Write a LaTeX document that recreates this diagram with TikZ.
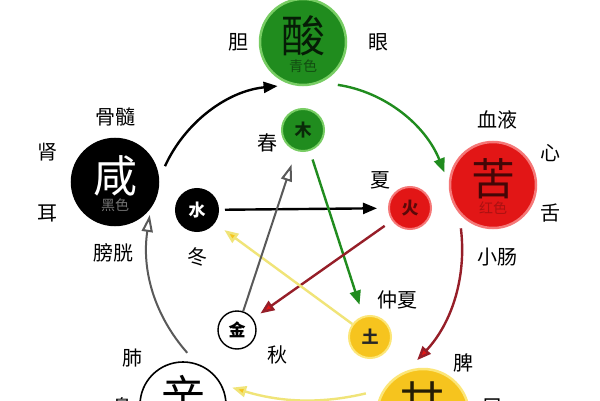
\documentclass[tikz,border=0pt]{standalone}
\usepackage{fontspec}
\setmainfont{Noto Sans CJK SC}
\usetikzlibrary{arrows.meta}
\definecolor{wxgreen}{RGB}{32,140,30}
\definecolor{wxgreenglow}{RGB}{120,205,100}
\definecolor{wxred}{RGB}{226,22,22}
\definecolor{wxredglow}{RGB}{245,120,120}
\definecolor{wxyellow}{RGB}{246,196,30}
\definecolor{wxyellowglow}{RGB}{252,230,120}
\definecolor{arrowred}{RGB}{150,30,40}
\definecolor{arrowyellow}{RGB}{240,228,120}

\begin{document}
\begin{tikzpicture}[x=1pt,y=1pt,
    semithick,
    big/.style={circle, minimum size=86pt, inner sep=0pt, line width=2.5pt},
    small/.style={circle, minimum size=42pt, inner sep=0pt, line width=2pt},
    bigchar/.style={font=\fontsize{44}{44}\selectfont},
    smallchar/.style={font=\fontsize{17}{17}\selectfont\bfseries},
    tone/.style={font=\fontsize{14}{14}\selectfont},
    organ/.style={font=\fontsize{20}{20}\selectfont, text=black},
    flow/.style={line width=2.4pt, -{Triangle[length=14pt,width=11pt]}},
    openflow/.style={line width=2pt, draw=black!65, -{Triangle[open,fill=white,length=17pt,width=11pt]}}
    ]
\useasboundingbox (0,0) rectangle (600,400);
\clip (0,0) rectangle (600,400);
\fill[white] (0,0) rectangle (600,400);
% big circles
\node[big, fill=wxgreen, draw=wxgreenglow] (suan) at (303,358) {};
\node[big, fill=black, draw=black] (xian) at (115,218) {};
\node[big, fill=wxred, draw=wxredglow] (ku) at (493,215) {};
\node[big, fill=white, draw=black, line width=1.6pt] (xin) at (183,-5) {};
\node[big, fill=wxyellow, draw=wxyellowglow, minimum size=92pt] (gan) at (423,-15) {};
\node[bigchar, text=black!80!wxgreen] (suanT) at (303,364) {酸};
\node[tone, text=black!45!wxgreen] (suanC) at (303,334) {青色};
\node[bigchar, text=white] (xianT) at (115,224) {咸};
\node[tone, text=black!55] (xianC) at (115,195) {黑色};
\node[bigchar, text=black!70!wxred] (kuT) at (493,221) {苦};
\node[tone, text=black!25!wxred] (kuC) at (493,192) {红色};
\node[bigchar] (xinT) at (183,4) {辛};
\node[bigchar, text=black!85!wxyellow] (ganT) at (422,-2) {甘};
% small circles
\node[small, fill=wxgreen, draw=wxgreenglow] (mu) at (303,270) {};
\node[small, fill=black, draw=black] (shui) at (197,190) {};
\node[small, fill=wxred, draw=wxredglow] (huo) at (410,192) {};
\node[small, fill=wxyellow, draw=wxyellowglow] (tu) at (370,63) {};
\node[small, fill=white, draw=black, minimum size=38pt, line width=1.4pt] (jin) at (237,70) {};
\node[smallchar, text=black!70!wxgreen] (muT) at (mu) {木};
\node[smallchar, text=white] (shuiT) at (shui) {水};
\node[smallchar, text=black!60!wxred] (huoT) at (huo) {火};
\node[smallchar, text=black!85] (tuT) at (tu) {土};
\node[smallchar] (jinT) at (jin) {金};
% organ labels
\node[organ] (dan) at (238,358) {胆};
\node[organ] (yan) at (378,358) {眼};
\node[organ] (chun) at (267,257) {春};
\node[organ] (gusui) at (115,283) {骨髓};
\node[organ] (shen) at (47,248) {肾};
\node[organ] (er) at (47,187) {耳};
\node[organ] (pangguang) at (113,147) {膀胱};
\node[organ] (dong) at (197,143) {冬};
\node[organ] (xueye) at (497,280) {血液};
\node[organ] (xin2) at (550,247) {心};
\node[organ] (she) at (550,187) {舌};
\node[organ] (xiaochang) at (497,143) {小肠};
\node[organ] (xia) at (380,220) {夏};
\node[organ] (zhongxia) at (397,100) {仲夏};
\node[organ] (qiu) at (277,45) {秋};
\node[organ] (fei) at (132,42) {肺};
\node[organ] (bi) at (122,-7) {鼻};
\node[organ] (pi) at (463,37) {脾};
\node[organ] (kou) at (492,-7) {口};
% outer cycle
\draw[flow, draw=black, shorten <=14pt, shorten >=14pt] (xian.4) to [bend left=30] (suan.255);
\draw[flow, draw=wxgreen, shorten <=17pt, shorten >=12pt] (suan.294) to [bend left=30] (ku.178);
\draw[flow, draw=arrowred, -{Triangle[length=14pt,width=11pt,fill=wxred]}, shorten <=15pt, shorten >=14pt] (ku.220) to [bend left=25] (gan.109);
\draw[flow, draw=arrowyellow, -{Triangle[length=14pt,width=11pt,fill=wxyellow]}, shorten <=18pt, shorten >=11pt] (gan.147) to [bend left=15] (xin.28);
\draw[openflow, shorten <=14pt, shorten >=7pt] (xin.72) to [bend left=25] (xian.324);
% inner star
\draw[flow, draw=black, shorten <=6pt, shorten >=11pt] (shui) -- (huo);
\draw[flow, draw=wxgreen, shorten <=9pt, shorten >=12pt] (mu) -- (tu);
\draw[flow, draw=arrowred, -{Triangle[length=14pt,width=11pt,fill=wxred]}, shorten <=9pt, shorten >=9pt] (huo) -- (jin);
\draw[flow, draw=arrowyellow, -{Triangle[length=14pt,width=11pt,fill=wxyellow]}, shorten >=12pt] (tu) -- (shui);
\draw[openflow, shorten >=14pt] (jin) -- (mu);
\end{tikzpicture}
\end{document}
